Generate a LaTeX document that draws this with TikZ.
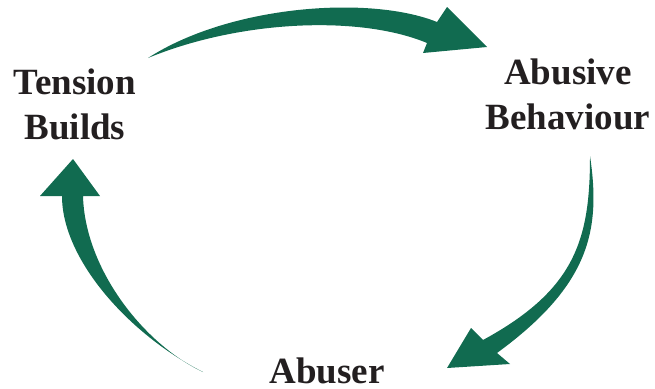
\documentclass[tikz,border=0pt]{standalone}
\usepackage{fontspec}
\setmainfont{Liberation Serif}
\usepackage{xcolor}
\usepackage{tikz}
\usetikzlibrary{positioning}

\definecolor{cyclegreen}{RGB}{17,107,80}
\definecolor{labelblack}{RGB}{35,31,32}

\begin{document}
\begin{tikzpicture}[
    x=1pt, y=-1pt,
    mylabel/.style={inner sep=0pt, align=center, text=labelblack, font=\fontsize{37}{45}\selectfont\bfseries},
    myarrow/.style={fill=cyclegreen, draw=none}
]
  \useasboundingbox (0,0) rectangle (655,388);

  % Nodes
  \node[mylabel] (tension) at (75,104) {Tension\\Builds};
  \node[mylabel] (abusive) at (568,94) {Abusive\\Behaviour};
  \node[mylabel, anchor=base] (abuser) at (327,383) {Abuser};

  % Arrows
  \fill[myarrow] (148,58) .. controls (230,5) and (370,-5) .. (437,22)
    -- (447,7) -- (487,47) -- (423,53) -- (427,43)
    .. controls (360,15) and (240,20) .. (148,58) -- cycle;
  \fill[myarrow] (590,156) .. controls (601,230) and (590,285) .. (497,353)
    -- (510,364) -- (447,368) -- (471,328) -- (483,340)
    .. controls (575,290) and (590,240) .. (590,156) -- cycle;
  \fill[myarrow] (203,372) .. controls (145,345) and (85,270) .. (83,196)
    -- (100,196) -- (73,159) -- (40,196) -- (62,196)
    .. controls (62,260) and (130,335) .. (203,372) -- cycle;

\end{tikzpicture}
\end{document}
